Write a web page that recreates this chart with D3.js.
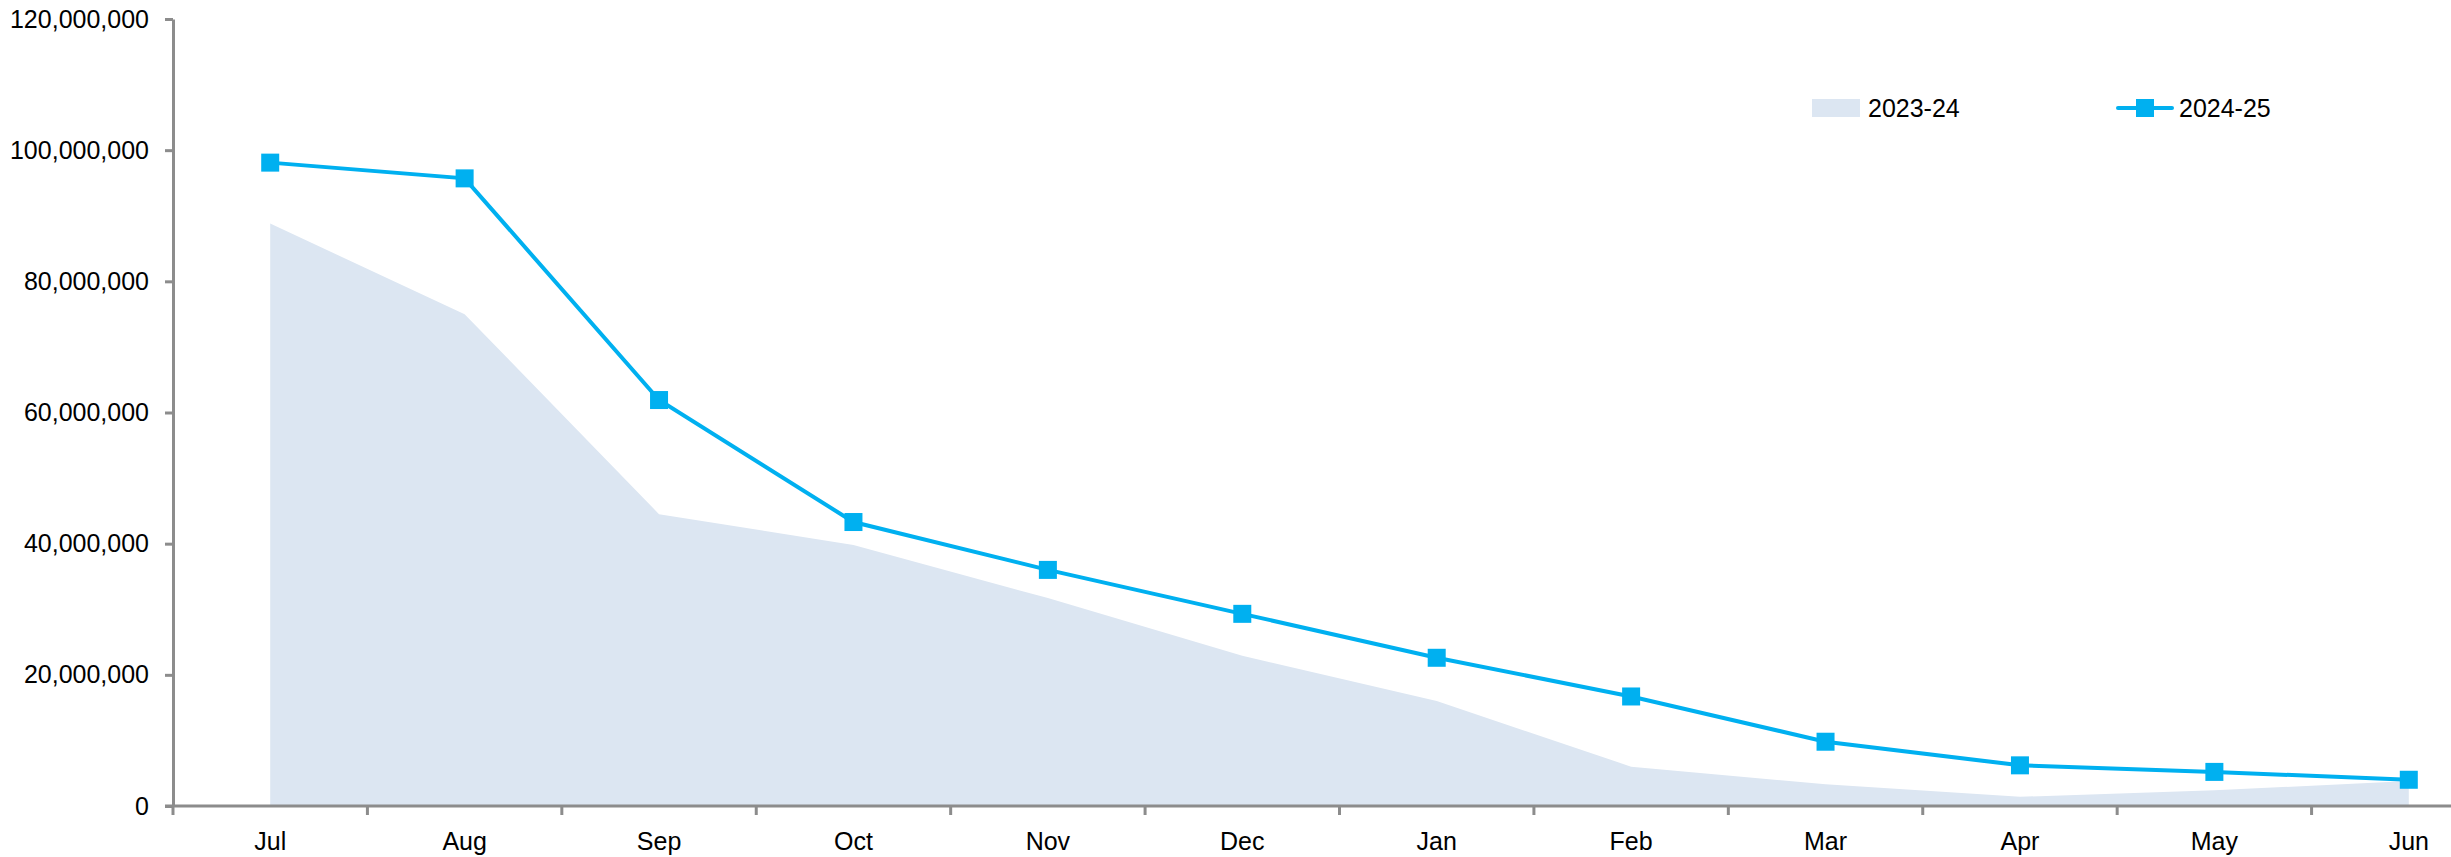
<!DOCTYPE html>
<html>
<head>
<meta charset="utf-8">
<script src="https://cdn.jsdelivr.net/npm/d3@7"></script>
<style>
  body { margin: 0; background: #fff; overflow: hidden; }
  svg { display: block; font-family: 'Liberation Sans', Arial, sans-serif; }
</style>
</head>
<body>
<svg id="chart" width="2451" height="857"></svg>
<script>
const months = ['Jul', 'Aug', 'Sep', 'Oct', 'Nov', 'Dec', 'Jan', 'Feb', 'Mar', 'Apr', 'May', 'Jun'];
const fy2324 = [88800000, 75000000, 44500000, 39800000, 31700000, 22900000, 16000000, 6000000, 3300000, 1400000, 2400000, 3800000];
const fy2425 = [98100000, 95700000, 61900000, 43300000, 36000000, 29300000, 22600000, 16700000, 9800000, 6200000, 5200000, 4000000];
const yTicks = [0, 20000000, 40000000, 60000000, 80000000, 100000000, 120000000];
const seriesNames = ['2023-24', '2024-25'];

const width = 2451;
const height = 857;
const margin = { left: 173, right: -55, top: 19, bottom: 51 };
const lineColor = '#00b0f0';
const areaColor = '#dce6f2';
const axisColor = '#8c8c8c';
const fontSize = 25;

const svg = d3.select('#chart');

const x = d3.scaleBand()
  .domain(months)
  .range([margin.left, width - margin.right]);

const y = d3.scaleLinear()
  .domain([0, 120000000])
  .range([height - margin.bottom, margin.top]);

const cx = d => x(d) + x.bandwidth() / 2;

// area for 2023-24
const area = d3.area()
  .x((d, i) => cx(months[i]))
  .y0(y(0))
  .y1(d => y(d));

svg.append('path')
  .datum(fy2324)
  .attr('d', area)
  .attr('fill', areaColor);

// y axis
const yAxis = svg.append('g')
  .attr('transform', `translate(${margin.left}, 0)`)
  .call(d3.axisLeft(y).tickValues(yTicks).tickFormat(d3.format(',')).tickSize(8).tickSizeOuter(0).tickPadding(16));
yAxis.select('.domain').attr('stroke', axisColor).attr('stroke-width', 3);
yAxis.selectAll('.tick line').attr('stroke', axisColor).attr('stroke-width', 3);
yAxis.selectAll('.tick text').attr('font-size', fontSize).attr('fill', '#000').attr('font-family', "'Liberation Sans', Arial, sans-serif");

// x axis
const xAxis = svg.append('g')
  .attr('transform', `translate(0, ${y(0)})`)
  .call(d3.axisBottom(x).tickSize(0).tickSizeOuter(0).tickPadding(26));
xAxis.select('.domain').attr('stroke', axisColor).attr('stroke-width', 3)
  .attr('d', `M${margin.left - 8},0H${width + 60}`);
xAxis.selectAll('.tick text').attr('font-size', fontSize).attr('fill', '#000').attr('font-family', "'Liberation Sans', Arial, sans-serif");

// category boundary ticks
xAxis.selectAll('.bound')
  .data(months)
  .enter()
  .append('line')
  .attr('class', 'bound')
  .attr('x1', d => x(d))
  .attr('x2', d => x(d))
  .attr('y1', 0)
  .attr('y2', 9)
  .attr('stroke', axisColor)
  .attr('stroke-width', 3);

// line for 2024-25
const line = d3.line()
  .x((d, i) => cx(months[i]))
  .y(d => y(d));

svg.append('path')
  .datum(fy2425)
  .attr('d', line)
  .attr('fill', 'none')
  .attr('stroke', lineColor)
  .attr('stroke-width', 4);

const mk = 18;
svg.selectAll('rect.marker')
  .data(fy2425)
  .enter()
  .append('rect')
  .attr('class', 'marker')
  .attr('x', (d, i) => cx(months[i]) - mk / 2)
  .attr('y', d => y(d) - mk / 2)
  .attr('width', mk)
  .attr('height', mk)
  .attr('fill', lineColor);

// legend
const legend = svg.append('g').attr('transform', 'translate(1812, 108)');
legend.append('rect')
  .attr('x', 0).attr('y', -9).attr('width', 48).attr('height', 18)
  .attr('fill', areaColor);
legend.append('text')
  .attr('x', 56).attr('y', 0).attr('dy', '0.35em')
  .attr('font-size', fontSize)
  .text(seriesNames[0]);

legend.append('line')
  .attr('x1', 306).attr('x2', 360).attr('y1', 0).attr('y2', 0)
  .attr('stroke', lineColor).attr('stroke-width', 4).attr('stroke-linecap', 'round');
legend.append('rect')
  .attr('x', 333 - mk / 2).attr('y', -mk / 2).attr('width', mk).attr('height', mk)
  .attr('fill', lineColor);
legend.append('text')
  .attr('x', 367).attr('y', 0).attr('dy', '0.35em')
  .attr('font-size', fontSize)
  .text(seriesNames[1]);
</script>
</body>
</html>
